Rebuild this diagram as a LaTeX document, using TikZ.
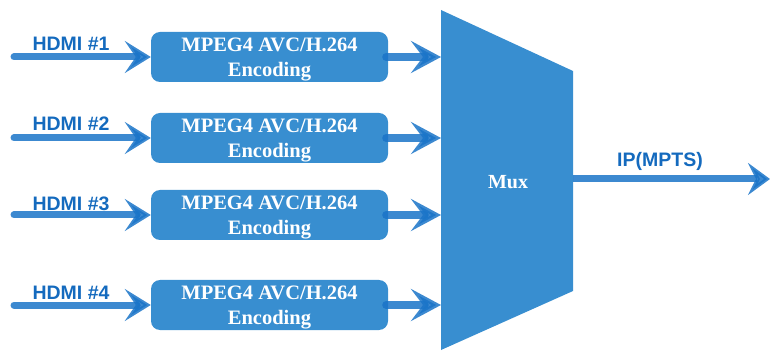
\documentclass[tikz,border=0pt]{standalone}
\usepackage{fontspec}
\setmainfont{Liberation Serif}
\newfontfamily\labelfont{Liberation Sans}
\usetikzlibrary{arrows.meta}
\definecolor{boxblue}{RGB}{56,142,208}
\definecolor{arrowblue}{RGB}{26,116,200}
\definecolor{textblue}{RGB}{20,106,190}
\tikzset{
  encbox/.style={fill=boxblue, draw=none, rounded corners=9pt, minimum width=237pt, minimum height=50pt, inner sep=0pt, text depth=-2pt, align=center, text=white, font=\bfseries\fontsize{20.5}{25}\selectfont},
  inarrow/.style={draw=arrowblue, line width=7pt, opacity=0.85, line cap=round, -{Stealth[length=26pt, width=32pt, inset=11pt]}},
  outarrow/.style={draw=arrowblue, line width=8pt, opacity=0.85, line cap=round, -{Stealth[length=30pt, width=32pt, inset=12pt]}},
  hdmi/.style={text=textblue, font=\labelfont\bfseries\fontsize{19.5}{22}\selectfont, inner sep=0pt},
}
\begin{document}
\begin{tikzpicture}[x=1pt, y=-1pt]
\useasboundingbox (0,0) rectangle (770,352);
% Mux shape
\fill[boxblue] (441,10) -- (573,71) -- (573,291) -- (441,350) -- cycle;
\node[text=white, font=\bfseries\fontsize{20}{24}\selectfont] (mux) at (508,182) {Mux};
\coordinate (muxL) at (441,0);
\coordinate (muxR) at (573,179);
\coordinate (outEnd) at (770,179);
% boxes
\node[encbox] (b1) at (269.5,57) {MPEG4 AVC/H.264\\Encoding};
\node[encbox] (b2) at (269.5,138) {MPEG4 AVC/H.264\\Encoding};
\node[encbox] (b3) at (269.5,215) {MPEG4 AVC/H.264\\Encoding};
\node[encbox] (b4) at (269.5,305) {MPEG4 AVC/H.264\\Encoding};
% input start coordinates
\coordinate (i1) at (14,57);
\coordinate (i2) at (14,138);
\coordinate (i3) at (14,215);
\coordinate (i4) at (14,305);
% labels
\node[hdmi] (l1) at (71,44) {HDMI \#1};
\node[hdmi] (l2) at (71,124) {HDMI \#2};
\node[hdmi] (l3) at (71,204) {HDMI \#3};
\node[hdmi] (l4) at (71,293) {HDMI \#4};
\node[hdmi] (lip) at (660,161) {IP(MPTS)};
% input arrows
\draw[inarrow] (i1) -- (b1.west);
\draw[inarrow] (i2) -- (b2.west);
\draw[inarrow] (i3) -- (b3.west);
\draw[inarrow] (i4) -- (b4.west);
% output arrows to mux
\draw[outarrow] ([xshift=-2pt]b1.east) -- (b1.east -| muxL);
\draw[outarrow] ([xshift=-2pt]b2.east) -- (b2.east -| muxL);
\draw[outarrow] ([xshift=-2pt]b3.east) -- (b3.east -| muxL);
\draw[outarrow] ([xshift=-2pt]b4.east) -- (b4.east -| muxL);
% output arrow
\draw[draw=arrowblue, line width=7pt, opacity=0.85, -{Stealth[length=22pt, width=32pt, inset=8pt]}] (muxR) -- (outEnd);
\end{tikzpicture}
\end{document}
